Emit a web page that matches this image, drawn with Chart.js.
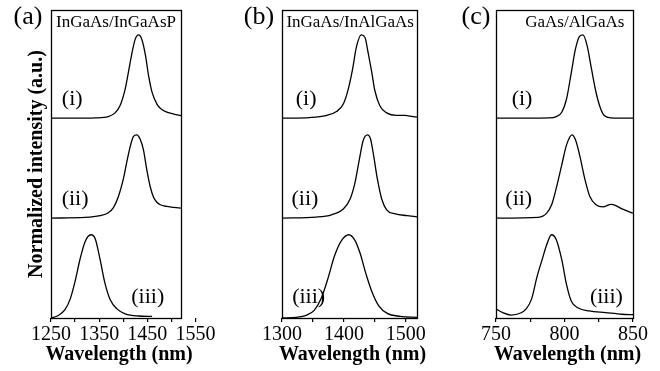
<!DOCTYPE html>
<html>
<head>
<meta charset="utf-8">
<script src="https://cdn.jsdelivr.net/npm/chart.js@4.4.1/dist/chart.umd.min.js"></script>
<style>
  html, body { margin: 0; background: #fff; }
  #wrap { position: relative; width: 660px; height: 371px; }
  #wrap canvas { position: absolute; left: 0; top: 0; }
</style>
</head>
<body>
<div id="wrap">
  <canvas id="panelA" width="660" height="371"></canvas>
  <canvas id="panelB" width="660" height="371"></canvas>
  <canvas id="panelC" width="660" height="371"></canvas>
</div>
<script>
// Vertical offsets of the stacked spectra (i), (ii), (iii)
const offsets = [2.4, 1.2, 0];
const curveTags = ['(i)', '(ii)', '(iii)'];

// (a) InGaAs/InGaAsP
const wlA1 = [1250, 1300, 1342, 1369, 1383, 1394, 1404, 1411, 1418, 1425, 1432, 1439, 1446, 1453, 1460, 1470, 1477, 1488, 1505, 1520];
const intA1 = [0, 0, 0.004, 0.02, 0.064, 0.16, 0.35, 0.56, 0.78, 0.95, 1.0, 0.94, 0.76, 0.5, 0.31, 0.17, 0.12, 0.08, 0.05, 0.032];
const wlA2 = [1250, 1321, 1352, 1369, 1380, 1390, 1401, 1408, 1415, 1421, 1428, 1435, 1442, 1449, 1456, 1463, 1470, 1477, 1490, 1505, 1520];
const intA2 = [0, 0.008, 0.03, 0.065, 0.13, 0.26, 0.49, 0.69, 0.87, 0.98, 1.0, 0.95, 0.82, 0.58, 0.38, 0.25, 0.19, 0.16, 0.14, 0.13, 0.12];
const wlA3 = [1250, 1265, 1279, 1290, 1300, 1310, 1321, 1333, 1342, 1352, 1362, 1373, 1387, 1404, 1432, 1460];
const intA3 = [0, 0.03, 0.1, 0.23, 0.44, 0.7, 0.92, 1.0, 0.95, 0.7, 0.42, 0.22, 0.11, 0.05, 0.024, 0.02];

// (b) InGaAs/InAlGaAs
const wlB1 = [1300, 1344, 1371, 1388, 1399, 1407, 1414, 1420, 1428, 1434, 1439, 1445, 1450, 1458, 1469, 1485, 1499, 1507, 1518];
const intB1 = [0, 0.008, 0.032, 0.08, 0.17, 0.35, 0.59, 0.85, 1.0, 0.97, 0.79, 0.55, 0.33, 0.15, 0.064, 0.035, 0.035, 0.025, 0.012];
const wlB2 = [1300, 1355, 1380, 1399, 1410, 1418, 1425, 1431, 1438, 1443, 1448, 1454, 1461, 1469, 1483, 1502, 1518];
const intB2 = [0, 0.012, 0.04, 0.11, 0.23, 0.43, 0.71, 0.93, 1.0, 0.95, 0.75, 0.47, 0.23, 0.1, 0.05, 0.03, 0.015];
const wlB3 = [1300, 1323, 1339, 1352, 1363, 1374, 1385, 1396, 1408, 1418, 1426, 1436, 1446, 1456, 1470, 1491, 1518];
const intB3 = [0, 0.008, 0.032, 0.092, 0.23, 0.47, 0.75, 0.93, 1.0, 0.93, 0.78, 0.52, 0.3, 0.15, 0.055, 0.02, 0.008];

// (c) GaAs/AlGaAs
const wlC1 = [750, 789, 794, 798, 801.5, 805, 808, 811, 813.5, 816.5, 819.7, 823, 826, 829, 834, 850];
const intC1 = [0, 0.004, 0.02, 0.072, 0.232, 0.552, 0.832, 0.984, 1.0, 0.872, 0.592, 0.312, 0.132, 0.032, 0.004, 0];
const wlC2 = [750, 781, 787, 790.6, 794, 798, 801.5, 805.5, 808, 811, 815, 818.5, 823, 828, 834, 837.5, 842, 850];
const intC2 = [0, 0.01, 0.06, 0.16, 0.36, 0.64, 0.88, 1.0, 0.94, 0.76, 0.46, 0.26, 0.16, 0.135, 0.165, 0.15, 0.11, 0.06];
const wlC3 = [750, 755, 761, 768, 772, 776, 780, 784, 787, 790.5, 794, 798, 801.5, 805, 810, 818, 830, 842, 850];
const intC3 = [0.11, 0.064, 0.035, 0.06, 0.11, 0.23, 0.5, 0.72, 0.88, 1.0, 0.94, 0.7, 0.4, 0.2, 0.12, 0.085, 0.065, 0.045, 0.04];

// Axis ticks (marks) and which of them carry a label
const ticksA = [1250, 1300, 1350, 1400, 1450, 1500, 1550];
const labelsA = [1250, 1350, 1450, 1550];
const ticksB = [1300, 1350, 1400, 1450, 1500];
const labelsB = [1300, 1400, 1500];
const ticksC = [750, 775, 800, 825, 850];
const labelsC = [750, 800, 850];

const FONT = "'Liberation Serif', 'Times New Roman', serif";

// Frame, panel letter, material title, x title and (i)/(ii)/(iii) tags
const decor = {
    id: 'decor',
    afterDraw(chart, args, opts) {
        const { ctx, chartArea: a, scales } = chart;
        ctx.save();
        ctx.strokeStyle = '#000';
        ctx.lineWidth = 1.3;
        ctx.strokeRect(Math.round(a.left) + 0.5, Math.round(a.top) + 0.5,
            Math.round(a.right - a.left), Math.round(a.bottom - a.top));

        ctx.fillStyle = '#000';
        ctx.textAlign = 'center';
        ctx.textBaseline = 'middle';
        ctx.font = `26px ${FONT}`;
        ctx.fillText(opts.letter, a.left + opts.letterDx, 17);

        ctx.font = `bold 20px ${FONT}`;
        ctx.fillText('Wavelength (nm)', (a.left + a.right) / 2 + 3, 355);

        ctx.textBaseline = 'alphabetic';
        ctx.font = `17px ${FONT}`;
        ctx.fillText(opts.title, scales.x.getPixelForValue(opts.titleX), a.top + 17);

        ctx.textBaseline = 'middle';
        ctx.font = `22px ${FONT}`;
        opts.tagX.forEach((x, i) => {
            ctx.fillText(curveTags[i], scales.x.getPixelForValue(x), scales.y.getPixelForValue(opts.tagY[i]));
        });
        ctx.restore();
    }
};

function makePanel(id, p) {
    const datasets = p.traces.map(([wl, inten], i) => ({
        data: wl.map((w, k) => ({ x: w, y: inten[k] + offsets[i] })),
        borderColor: '#000',
        borderWidth: 1.3,
        pointRadius: 0,
        fill: false,
        cubicInterpolationMode: 'monotone',
    }));

    return new Chart(document.getElementById(id), {
        type: 'line',
        data: { datasets },
        options: {
            responsive: false,
            animation: false,
            layout: { padding: { left: p.left, right: 660 - p.right, top: 10, bottom: 0 } },
            plugins: {
                legend: { display: false },
                tooltip: { enabled: false },
                decor: p.decor,
            },
            scales: {
                x: {
                    type: 'linear',
                    min: p.min,
                    max: p.max,
                    afterBuildTicks: (axis) => { axis.ticks = p.ticks.map(v => ({ value: v })); },
                    afterFit: (axis) => { axis.height = 53; },
                    ticks: {
                        autoSkip: false,
                        maxRotation: 0,
                        padding: 1,
                        color: '#000',
                        font: { family: FONT, size: 20 },
                        callback: (v) => p.labels.includes(v) ? String(v) : '',
                    },
                    grid: { drawOnChartArea: false, tickLength: 4, color: '#000', lineWidth: 1.2 },
                    border: { display: false },
                },
                y: {
                    min: 0,
                    max: 3.7,
                    display: !!p.yTitle,
                    afterFit: (axis) => { axis.width = p.yTitle ? 51 : 0; },
                    ticks: { display: false },
                    grid: { display: false },
                    border: { display: false },
                    title: {
                        display: !!p.yTitle,
                        text: p.yTitle || '',
                        color: '#000',
                        font: { family: FONT, size: 20, weight: 'bold' },
                        padding: { top: 25, bottom: 0 },
                    },
                },
            },
        },
        plugins: [decor],
    });
}

makePanel('panelA', {
    left: 0, right: 181, min: 1250, max: 1520,
    ticks: ticksA, labels: labelsA,
    yTitle: 'Normalized intensity (a.u.)',
    traces: [[wlA1, intA1], [wlA2, intA2], [wlA3, intA3]],
    decor: { letter: '(a)', letterDx: -23, title: 'InGaAs/InGaAsP', titleX: 1385,
             tagX: [1294, 1300, 1451], tagY: [2.63, 1.43, 0.25] },
});

makePanel('panelB', {
    left: 282, right: 417, min: 1300, max: 1518,
    ticks: ticksB, labels: labelsB,
    traces: [[wlB1, intB1], [wlB2, intB2], [wlB3, intB3]],
    decor: { letter: '(b)', letterDx: -23, title: 'InGaAs/InAlGaAs', titleX: 1410,
             tagX: [1339, 1337, 1343], tagY: [2.63, 1.43, 0.25] },
});

makePanel('panelC', {
    left: 496, right: 633, min: 750, max: 850,
    ticks: ticksC, labels: labelsC,
    traces: [[wlC1, intC1], [wlC2, intC2], [wlC3, intC3]],
    decor: { letter: '(c)', letterDx: -20, title: 'GaAs/AlGaAs', titleX: 807.5,
             tagX: [769, 766.6, 830.6], tagY: [2.63, 1.43, 0.25] },
});
</script>
</body>
</html>
